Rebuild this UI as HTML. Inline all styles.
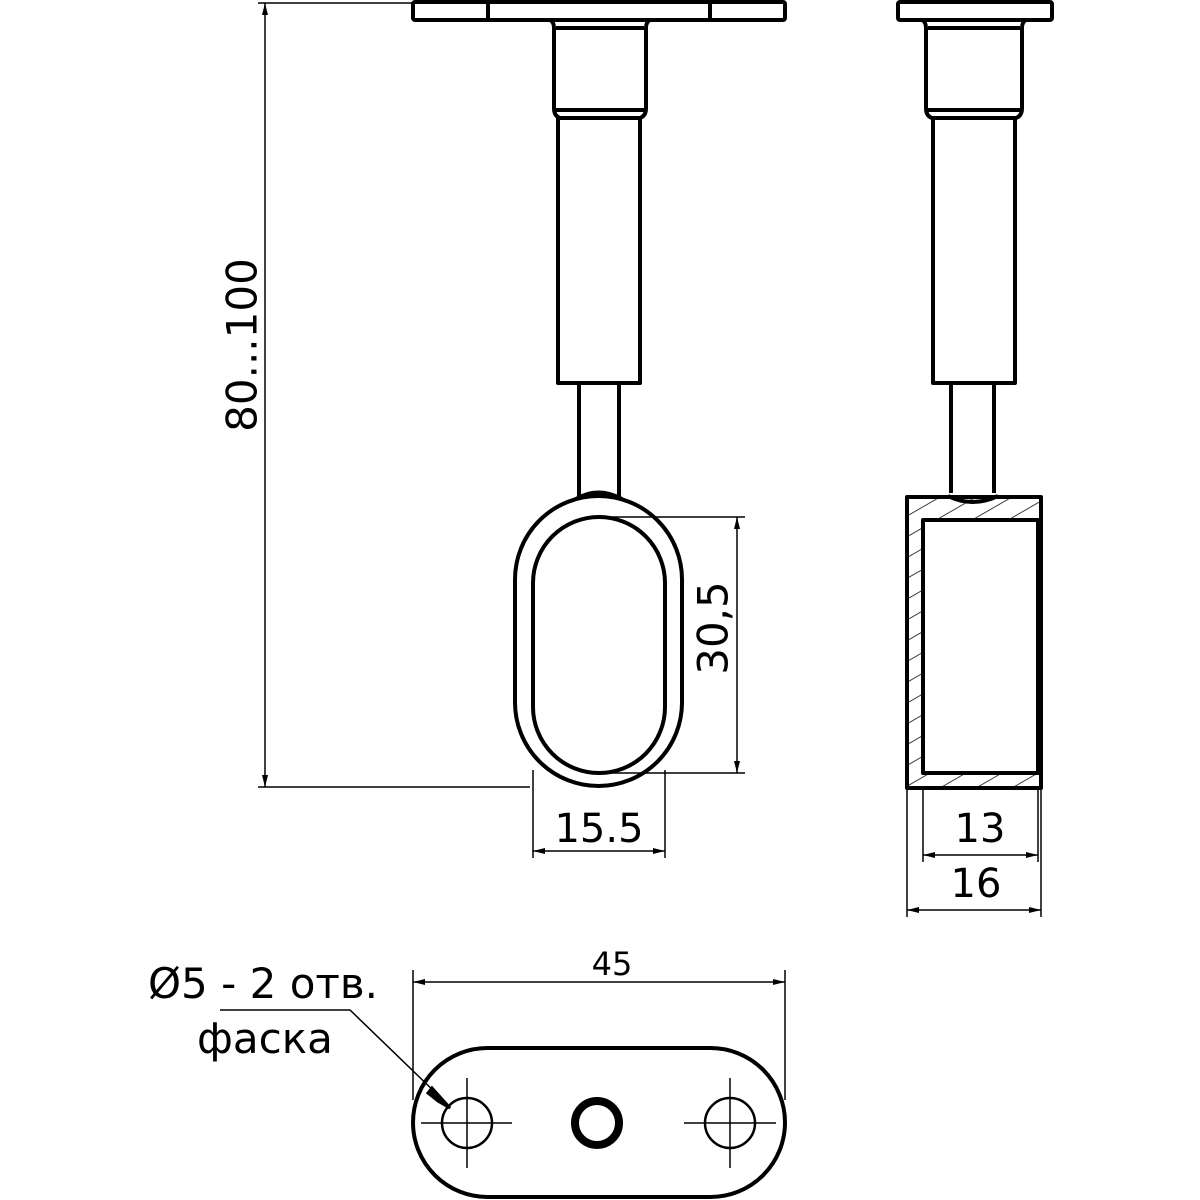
<!DOCTYPE html>
<html><head><meta charset="utf-8"><style>html,body{margin:0;padding:0;background:#fff}svg{display:block}text{font-family:"DejaVu Sans","Liberation Sans",sans-serif;fill:#000}</style></head><body>
<svg width="1200" height="1200" viewBox="0 0 1200 1200" xmlns="http://www.w3.org/2000/svg">
<defs>
<marker id="a" viewBox="0 0 12 6" refX="12" refY="3" markerWidth="12" markerHeight="6" orient="auto-start-reverse" markerUnits="userSpaceOnUse"><path d="M0,0L12,3L0,6z" fill="#000"/></marker>
<pattern id="h" width="18" height="18" patternUnits="userSpaceOnUse" patternTransform="rotate(-30)"><line x1="0" y1="0" x2="18" y2="0" stroke="#000" stroke-width="1.5"/></pattern>
</defs>
<g fill="none" stroke="#000" stroke-width="4" stroke-linejoin="round">
<!-- left view -->
<rect x="413" y="2" width="372" height="18" rx="2"/>
<line x1="488" y1="2" x2="488" y2="20"/><line x1="710" y1="2" x2="710" y2="20"/>
<path d="M550,20 Q554,22 554,28 L554,108 Q554,116 560,118 L640,118 Q646,116 646,108 L646,28 Q646,22 650,20"/>
<line x1="556" y1="28" x2="644" y2="28"/><line x1="556" y1="110" x2="644" y2="110"/>
<rect x="558" y="118" width="82" height="265"/>
<line x1="579" y1="383" x2="579" y2="497"/><line x1="619" y1="383" x2="619" y2="497"/>
<path d="M576,499 Q598,486 622,499"/>
<rect x="515" y="496" width="167" height="290" rx="83.5"/>
<rect x="533" y="517" width="132" height="256" rx="66"/>
<!-- right view -->
<rect x="898" y="2" width="154" height="18" rx="2"/>
<path d="M922,20 Q926,22 926,28 L926,108 Q926,116 932,118 L1016,118 Q1022,116 1022,108 L1022,28 Q1022,22 1026,20"/>
<line x1="928" y1="28" x2="1020" y2="28"/><line x1="928" y1="110" x2="1020" y2="110"/>
<rect x="933" y="118" width="82" height="265"/>
<line x1="951" y1="383" x2="951" y2="493"/><line x1="994" y1="383" x2="994" y2="493"/>
<path d="M948,496 Q972,508 998,496"/>
<path d="M907,497 H1041 V788 H907 Z M923,520 H1038 V773 H923 Z" fill="url(#h)" fill-rule="evenodd"/>
<!-- bottom plate -->
<rect x="413" y="1048" width="372" height="149" rx="74.5"/>
<circle cx="597" cy="1123" r="22" stroke-width="8"/>
</g>
<g fill="none" stroke="#000" stroke-width="2.5">
<circle cx="467" cy="1123" r="25"/><circle cx="730" cy="1123" r="25"/>
</g>
<g stroke="#000" stroke-width="1.5" fill="none">
<line x1="467" y1="1078" x2="467" y2="1168"/><line x1="421" y1="1123" x2="512" y2="1123"/>
<line x1="730" y1="1078" x2="730" y2="1168"/><line x1="684" y1="1123" x2="776" y2="1123"/>
<!-- 80...100 -->
<line x1="258" y1="3" x2="413" y2="3"/><line x1="258" y1="787" x2="530" y2="787"/>
<line x1="265" y1="3" x2="265" y2="787" marker-start="url(#a)" marker-end="url(#a)"/>
<!-- 30,5 -->
<line x1="600" y1="517" x2="745" y2="517"/><line x1="600" y1="773" x2="745" y2="773"/>
<line x1="737" y1="517" x2="737" y2="773" marker-start="url(#a)" marker-end="url(#a)"/>
<!-- 15.5 -->
<line x1="533" y1="770" x2="533" y2="858"/><line x1="665" y1="770" x2="665" y2="858"/>
<line x1="533" y1="851" x2="665" y2="851" marker-start="url(#a)" marker-end="url(#a)"/>
<!-- 13 / 16 -->
<line x1="923" y1="790" x2="923" y2="862"/><line x1="1038" y1="790" x2="1038" y2="862"/>
<line x1="923" y1="855" x2="1038" y2="855" marker-start="url(#a)" marker-end="url(#a)"/>
<line x1="907" y1="790" x2="907" y2="917"/><line x1="1041" y1="790" x2="1041" y2="917"/>
<line x1="907" y1="910" x2="1041" y2="910" marker-start="url(#a)" marker-end="url(#a)"/>
<!-- 45 -->
<line x1="413" y1="970" x2="413" y2="1100"/><line x1="785" y1="970" x2="785" y2="1100"/>
<line x1="413" y1="982" x2="785" y2="982" marker-start="url(#a)" marker-end="url(#a)"/>
<!-- leader -->
<polyline points="220,1010 350,1010 440,1097"/>
</g>
<path d="M432,1088 L450,1108 L438,1101 L428,1093 Z" fill="#000" stroke="#000" stroke-width="3"/>
<text x="245" y="345" font-size="42" text-anchor="middle" transform="rotate(-90 245 345)" dominant-baseline="middle">80...100</text>
<text x="716" y="628" font-size="42" text-anchor="middle" transform="rotate(-90 716 628)" dominant-baseline="middle">30,5</text>
<text x="599" y="842" font-size="40" text-anchor="middle">15.5</text>
<text x="980" y="842" font-size="40" text-anchor="middle">13</text>
<text x="976" y="897" font-size="40" text-anchor="middle">16</text>
<text x="612" y="975" font-size="32" text-anchor="middle">45</text>
<text x="148" y="998" font-size="42">Ø5 - 2 отв.</text>
<text x="197" y="1053" font-size="42">фаска</text>
</svg>
</body></html>
